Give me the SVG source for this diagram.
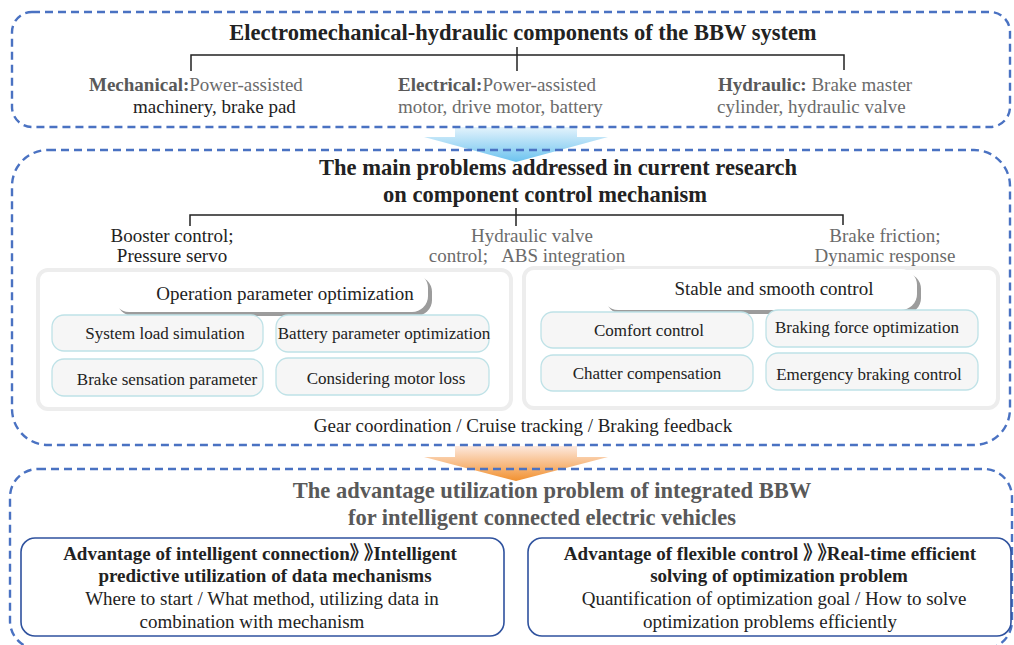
<svg xmlns="http://www.w3.org/2000/svg" width="1014" height="645" viewBox="0 0 1014 645">
<defs>
<linearGradient id="gBlue" x1="0" y1="0" x2="0" y2="1">
<stop offset="0" stop-color="#e4f3fc"/>
<stop offset="1" stop-color="#6cc3ef"/>
</linearGradient>
<linearGradient id="gOrange" x1="0" y1="0" x2="0" y2="1">
<stop offset="0" stop-color="#fde9de"/>
<stop offset="1" stop-color="#f29130"/>
</linearGradient>
<style>
.panel{fill:none;stroke:#4a72c2;stroke-width:2.4;stroke-dasharray:8 5}
.title{font-family:"Liberation Serif","Times New Roman",serif;font-weight:bold;font-size:22.5px;fill:#222}
.t3{fill:#595959}
.lab{font-family:"Liberation Serif","Times New Roman",serif;font-size:19px;fill:#6b6b6b}
.dark{fill:#222}
.b{font-weight:bold;fill:#595959}
.brk{fill:none;stroke:#222;stroke-width:1.5}
.inner{fill:#fff;stroke:#ededed;stroke-width:4}
.sub{fill:#f6f6f6;stroke:#bfe2e7;stroke-width:1.3}
.subt{font-family:"Liberation Serif","Times New Roman",serif;font-size:17px;fill:#222;text-anchor:middle}
.pill{fill:#fff}
.shadow{fill:#9c9c9c}
.pillt{font-family:"Liberation Serif","Times New Roman",serif;font-size:19px;fill:#222;text-anchor:middle}
.adv{fill:#fff;stroke:#2f529e;stroke-width:1.6}
.advt{font-family:"Liberation Serif","Times New Roman","Noto Sans CJK SC",serif;font-size:19px;fill:#222;text-anchor:middle}
.advb{font-weight:bold}
.pw{font-feature-settings:"palt" 1}
</style>
</defs>
<rect width="1014" height="645" fill="#fff"/>

<g id="connectors">
<path d="M455,127 L577,127 L577,137 L608,137 L516,162 L424,137 L455,137 Z" fill="url(#gBlue)"/>
<path d="M455,446 L577,446 L577,457 L608,457 L516,481 L424,457 L455,457 Z" fill="url(#gOrange)"/>
</g>

<g id="panel-components">
<rect class="panel" x="12" y="12" width="998" height="115" rx="20"/>
<text class="title" x="523" y="40" text-anchor="middle">Electromechanical-hydraulic components of the BBW system</text>
<path class="brk" d="M191,71 V55 H844 V70 M517,47 V71"/>
<text class="lab" x="89" y="91"><tspan class="b">Mechanical:</tspan>Power-assisted</text>
<text class="lab dark" x="133" y="113">machinery, brake pad</text>
<text class="lab" x="398" y="91"><tspan class="b">Electrical:</tspan>Power-assisted</text>
<text class="lab" x="398" y="113">motor, drive motor, battery</text>
<text class="lab" x="718" y="91"><tspan class="b">Hydraulic:</tspan> Brake master</text>
<text class="lab" x="717" y="113">cylinder, hydraulic valve</text>
</g>

<g id="panel-problems">
<rect class="panel" x="12" y="150" width="998" height="295" rx="36"/>
<text class="title" x="558" y="175" text-anchor="middle">The main problems addressed in current research</text>
<text class="title" x="545" y="202" text-anchor="middle">on component control mechanism</text>
<path class="brk" d="M190,226 V215 H843 V225 M516,208 V226"/>
<text class="lab dark" x="172" y="242" text-anchor="middle">Booster control;</text>
<text class="lab dark" x="172" y="262" text-anchor="middle">Pressure servo</text>
<text class="lab" x="532" y="242" text-anchor="middle">Hydraulic valve</text>
<text class="lab" x="527" y="262" text-anchor="middle" xml:space="preserve">control;   ABS integration</text>
<text class="lab" x="885" y="242" text-anchor="middle">Brake friction;</text>
<text class="lab" x="885" y="262" text-anchor="middle">Dynamic response</text>
<text class="lab dark" x="523" y="432" text-anchor="middle">Gear coordination / Cruise tracking / Braking feedback</text>
</g>

<g id="group-operation">
<rect class="inner" x="38" y="270" width="473" height="139" rx="10"/>
<rect class="shadow" x="117" y="276" width="315" height="40" rx="16"/>
<rect class="pill" x="113" y="272" width="315" height="40" rx="16"/>
<text class="pillt" x="285" y="300">Operation parameter optimization</text>
</g>
<g id="node-system-load">
<rect class="sub" x="52" y="315" width="211" height="36" rx="12"/>
<text class="subt" x="165" y="339">System load simulation</text>
</g>
<g id="node-battery">
<rect class="sub" x="276" y="315" width="213" height="37" rx="12"/>
<text class="subt" x="384" y="339">Battery parameter optimization</text>
</g>
<g id="node-brake-sensation">
<rect class="sub" x="52" y="359" width="211" height="37" rx="12"/>
<text class="subt" x="167" y="385">Brake sensation parameter</text>
</g>
<g id="node-motor-loss">
<rect class="sub" x="276" y="358" width="213" height="37" rx="12"/>
<text class="subt" x="386" y="384">Considering motor loss</text>
</g>

<g id="group-stable">
<rect class="inner" x="524" y="268" width="474" height="140" rx="10"/>
<rect class="shadow" x="606" y="273" width="315" height="41" rx="16"/>
<rect class="pill" x="602" y="269" width="315" height="41" rx="16"/>
<text class="pillt" x="774" y="295">Stable and smooth control</text>
</g>
<g id="node-comfort">
<rect class="sub" x="541" y="312" width="212" height="36" rx="12"/>
<text class="subt" x="649" y="336">Comfort control</text>
</g>
<g id="node-braking-force">
<rect class="sub" x="766" y="310" width="212" height="37" rx="12"/>
<text class="subt" x="867" y="333">Braking force optimization</text>
</g>
<g id="node-chatter">
<rect class="sub" x="541" y="355" width="212" height="36" rx="12"/>
<text class="subt" x="647" y="379">Chatter compensation</text>
</g>
<g id="node-emergency">
<rect class="sub" x="766" y="353" width="212" height="37" rx="12"/>
<text class="subt" x="869" y="380">Emergency braking control</text>
</g>

<g id="panel-advantage">
<rect class="panel" x="10" y="469" width="1002" height="180" rx="28"/>
<text class="title t3" x="552" y="498" text-anchor="middle">The advantage utilization problem of integrated BBW</text>
<text class="title t3" x="542" y="525" text-anchor="middle">for intelligent connected electric vehicles</text>
</g>
<g id="node-intelligent-connection">
<rect class="adv" x="21" y="538" width="483" height="98" rx="14"/>
<text class="advt advb pw" x="260" y="560">Advantage of intelligent connection》 》Intelligent</text>
<text class="advt advb" x="265" y="582">predictive utilization of data mechanisms</text>
<text class="advt" x="262" y="605">Where to start / What method, utilizing data in</text>
<text class="advt" x="252" y="628">combination with mechanism</text>
</g>
<g id="node-flexible-control">
<rect class="adv" x="528" y="538" width="483" height="98" rx="14"/>
<text class="advt advb pw" x="770" y="560">Advantage of flexible control 》 》Real-time efficient</text>
<text class="advt advb" x="779" y="582">solving of optimization problem</text>
<text class="advt" x="774" y="605">Quantification of optimization goal / How to solve</text>
<text class="advt" x="770" y="628">optimization problems efficiently</text>
</g>
</svg>
